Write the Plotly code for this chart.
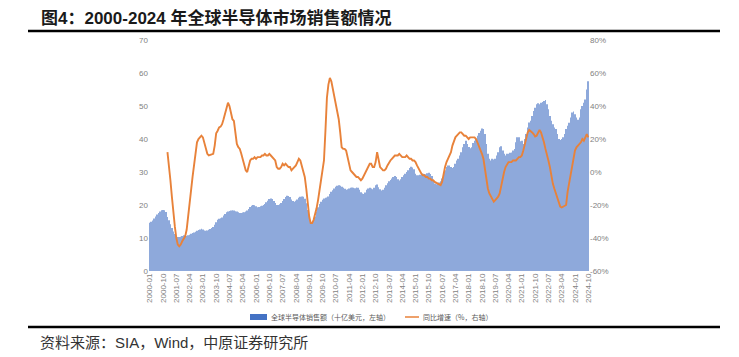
import pandas as pd
import plotly.graph_objects as go

# ---------------- data ----------------
months = [p.strftime("%Y-%m") for p in pd.period_range("2000-01", "2024-10", freq="M")]

sales_2000 = [14.6, 14.9, 15.3, 15.9, 16.5, 17.1, 17.6, 18.0, 18.4, 18.5, 18.4, 17.9]
sales_2001 = [16.4, 15.4, 14.2, 13.0, 12.0, 11.2, 10.6, 10.3, 10.3, 10.4, 10.6, 10.8]
sales_2002 = [10.7, 10.6, 10.8, 11.0, 11.3, 11.5, 11.7, 11.9, 12.2, 12.4, 12.6, 12.8]
sales_2003 = [12.6, 12.3, 12.2, 12.3, 12.5, 12.7, 13.0, 13.3, 14.0, 14.8, 15.5, 15.8]
sales_2004 = [16.0, 16.2, 16.8, 17.3, 17.8, 18.0, 18.2, 18.3, 18.4, 18.3, 18.1, 18.0]
sales_2005 = [17.8, 17.6, 17.6, 17.7, 17.8, 18.0, 18.3, 18.8, 19.4, 19.8, 20.0, 19.9]
sales_2006 = [19.6, 19.3, 19.4, 19.6, 19.8, 20.0, 20.3, 20.8, 21.3, 21.8, 22.0, 21.8]
sales_2007 = [21.2, 20.6, 20.0, 20.0, 20.2, 20.6, 21.2, 21.8, 22.4, 22.8, 22.7, 22.4]
sales_2008 = [21.7, 21.2, 21.0, 21.3, 21.7, 22.2, 22.5, 22.6, 22.5, 21.9, 20.5, 18.5]
sales_2009 = [16.0, 14.6, 14.4, 15.2, 16.5, 18.0, 19.3, 20.3, 21.0, 21.6, 22.0, 22.2]
sales_2010 = [22.3, 22.6, 23.3, 24.0, 24.5, 25.0, 25.5, 25.8, 26.0, 25.8, 25.5, 25.2]
sales_2011 = [24.9, 24.6, 24.8, 25.0, 25.2, 25.3, 25.2, 25.1, 25.3, 25.2, 24.6, 23.9]
sales_2012 = [23.5, 23.3, 23.8, 24.6, 25.0, 25.2, 25.0, 24.8, 25.2, 26.0, 26.2, 25.4]
sales_2013 = [24.8, 24.4, 24.6, 25.2, 26.0, 26.6, 27.2, 27.6, 28.0, 28.5, 28.8, 28.5]
sales_2014 = [27.8, 27.4, 27.8, 28.5, 29.0, 29.5, 30.0, 30.5, 31.2, 31.6, 31.4, 30.8]
sales_2015 = [29.5, 29.0, 29.0, 29.2, 29.4, 29.5, 29.4, 29.3, 29.6, 29.8, 29.4, 28.8]
sales_2016 = [27.4, 26.5, 26.3, 26.5, 26.8, 27.2, 28.0, 29.5, 30.5, 31.5, 32.0, 32.0]
sales_2017 = [31.5, 31.2, 31.5, 32.5, 33.5, 34.0, 35.0, 36.0, 37.5, 38.5, 39.5, 38.5]
sales_2018 = [37.6, 37.2, 37.5, 38.8, 39.5, 40.0, 41.0, 41.8, 42.5, 43.2, 43.0, 41.5]
sales_2019 = [38.5, 35.5, 34.0, 33.5, 34.0, 33.8, 34.0, 35.0, 36.0, 37.5, 37.8, 36.5]
sales_2020 = [35.5, 35.0, 35.5, 35.5, 35.8, 35.9, 36.5, 37.0, 39.0, 40.5, 40.5, 39.3]
sales_2021 = [39.5, 38.5, 40.0, 41.5, 43.5, 45.0, 45.5, 47.0, 48.5, 49.5, 50.5, 50.8]
sales_2022 = [50.5, 51.0, 51.2, 51.5, 51.8, 50.5, 49.0, 47.0, 45.5, 44.5, 43.5, 43.0]
sales_2023 = [41.5, 40.0, 39.7, 40.0, 40.5, 41.5, 43.0, 44.0, 44.9, 46.5, 48.0, 48.3]
sales_2024 = [47.5, 46.5, 45.8, 46.5, 49.0, 50.0, 51.0, 52.0, 55.0, 57.5]

yoy_2001 = [12, 5, -5, -15, -25, -33, -40, -44, -45, -44, -42, -40]
yoy_2002 = [-39, -35, -28, -20, -11, -3, 5, 12, 18, 20, 21, 22]
yoy_2003 = [21, 18, 14, 11, 10, 10.3, 10.5, 11, 16, 23.5, 25, 27]
yoy_2004 = [27.5, 29, 32, 35, 38, 42, 40, 36, 32, 31, 24, 17]
yoy_2005 = [15, 14, 11, 8, 4, 1, 0, 3, 7, 8, 8, 9]
yoy_2006 = [8, 9, 9, 9, 10, 10, 11, 10, 10, 11, 10, 9]
yoy_2007 = [8, 7, 3, 2, 2, 3, 5, 4, 5, 4, 3, 3]
yoy_2008 = [1, 2, 3, 4, 6, 8, 7, 4, 1, -3, -10, -20]
yoy_2009 = [-27, -31, -31, -29, -26, -22, -17, -12, -5, 1, 7, 25]
yoy_2010 = [45, 53, 57, 55, 50, 46, 41, 36, 32, 24, 15, 14]
yoy_2011 = [14, 13, 9, 5, 1, 0, -1, -2, -3, -3, -4, -5]
yoy_2012 = [-4, -2, 0, 2, 4, 5, 5, 3, 3, 6, 12, 6]
yoy_2013 = [3, 2, 1, 1, 2, 4, 6, 7, 8, 9, 10, 10]
yoy_2014 = [10, 11, 10, 9, 9, 9, 10, 9, 8, 8, 7, 7]
yoy_2015 = [6, 4, 2, 0, -1, -2, -2, -3, -3, -4, -4, -5]
yoy_2016 = [-5, -6, -6.5, -7, -7.5, -8, -6, -1, 3, 6, 8, 9.3]
yoy_2017 = [12, 16, 19, 21, 22, 23, 24, 24, 23, 22, 22, 21]
yoy_2018 = [20, 21, 21, 21, 21, 20, 18, 15, 13, 11, 8, 2]
yoy_2019 = [-5, -10, -13, -15, -17, -18, -17, -16, -15, -13, -8, -3]
yoy_2020 = [0, 3, 5, 6, 6, 6, 7, 7, 7, 8, 9, 9]
yoy_2021 = [10, 13, 17, 20, 24, 25.5, 25, 24, 23, 21.5, 22, 24]
yoy_2022 = [25.5, 24, 21.5, 18, 14, 11, 7, 3, -3, -7, -10, -13]
yoy_2023 = [-15, -18, -21, -21.5, -21, -21, -20, -12, -7, 0, 5, 10]
yoy_2024 = [13, 15, 16, 17, 18, 20, 19, 21, 23, 21]

tick_labels = ["2000-01", "2000-10", "2001-07", "2002-04", "2003-01", "2003-10", "2004-07",
               "2005-04", "2006-01", "2006-10", "2007-07", "2008-04", "2009-01", "2009-10",
               "2010-07", "2011-04", "2012-01", "2012-10", "2013-07", "2014-04", "2015-01",
               "2015-10", "2016-07", "2017-04", "2018-01", "2018-10", "2019-07", "2020-04",
               "2021-01", "2021-10", "2022-07", "2023-04", "2024-01", "2024-10"]

left_ticks = [0, 10, 20, 30, 40, 50, 60, 70]
right_ticks = [-60, -40, -20, 0, 20, 40, 60, 80]

bar_name = "全球半导体销售额（十亿美元，左轴）"
line_name = "同比增速（%，右轴）"

sales = (sales_2000 + sales_2001 + sales_2002 + sales_2003 + sales_2004 + sales_2005 +
         sales_2006 + sales_2007 + sales_2008 + sales_2009 + sales_2010 + sales_2011 +
         sales_2012 + sales_2013 + sales_2014 + sales_2015 + sales_2016 + sales_2017 +
         sales_2018 + sales_2019 + sales_2020 + sales_2021 + sales_2022 + sales_2023 + sales_2024)
yoy = (yoy_2001 + yoy_2002 + yoy_2003 + yoy_2004 + yoy_2005 + yoy_2006 + yoy_2007 +
       yoy_2008 + yoy_2009 + yoy_2010 + yoy_2011 + yoy_2012 + yoy_2013 + yoy_2014 +
       yoy_2015 + yoy_2016 + yoy_2017 + yoy_2018 + yoy_2019 + yoy_2020 + yoy_2021 +
       yoy_2022 + yoy_2023 + yoy_2024)

FONT = "Liberation Sans, Arial, Noto Sans CJK SC, sans-serif"
CJK = "Noto Sans CJK SC, Liberation Sans, sans-serif"
BAR_C = "#8EA9DB"
LINE_C = "#E8823A"

W, H = 739, 357
L, R, T, B = 149, 150, 40, 86
PW, PH = W - L - R, H - T - B


def px(x):
    return (x - L) / PW


def py(y):
    return (H - B - y) / PH


fig = go.Figure()
fig.add_trace(go.Bar(
    x=months, y=sales, name=bar_name,
    marker=dict(color=BAR_C, line=dict(width=0)),
))
fig.add_trace(go.Scatter(
    x=months[12:], y=yoy, name=line_name, yaxis="y2",
    mode="lines", line=dict(color=LINE_C, width=1.9),
))

tickfont = dict(family=FONT, size=8, color="#7f7f7f")
fig.update_layout(
    width=W, height=H,
    margin=dict(l=L, r=R, t=T, b=B, autoexpand=False),
    paper_bgcolor="white", plot_bgcolor="white",
    bargap=0.45,
    showlegend=False,
    xaxis=dict(type="category", tickmode="array", tickvals=tick_labels, ticktext=tick_labels,
               tickangle=-90, tickfont=tickfont, automargin=False,
               showgrid=False, showline=False, ticks="", range=[-0.5, len(months) - 0.5]),
    yaxis=dict(range=[0, 70], tickvals=left_ticks, showgrid=False, zeroline=False,
               automargin=False, tickfont=tickfont, ticks="", showline=False),
    yaxis2=dict(range=[-60, 80], tickvals=right_ticks, ticktext=[f"{v}%" for v in right_ticks],
                overlaying="y", side="right", showgrid=False, zeroline=False, automargin=False,
                tickfont=tickfont, ticks="", showline=False),
    font=dict(family=FONT),
)

# header / footer rules
for yy in (31, 327):
    fig.add_shape(type="line", xref="paper", yref="paper",
                  x0=px(28), x1=px(720), y0=py(yy), y1=py(yy),
                  line=dict(color="black", width=2.5))

# title and source
fig.add_annotation(xref="paper", yref="paper", x=px(39), y=py(18),
                   xanchor="left", yanchor="middle", showarrow=False,
                   text="<b>图4：2000-2024 年全球半导体市场销售额情况</b>",
                   font=dict(family=FONT, size=17, color="#1a1a1a"))
fig.add_annotation(xref="paper", yref="paper", x=px(38), y=py(342),
                   xanchor="left", yanchor="middle", showarrow=False,
                   text="资料来源：SIA，Wind，中原证券研究所",
                   font=dict(family=FONT, size=15, color="#333333"))

# manual legend
fig.add_shape(type="rect", xref="paper", yref="paper",
              x0=px(250), x1=px(267), y0=py(320), y1=py(314),
              fillcolor="#4472C4", line=dict(width=0))
fig.add_annotation(xref="paper", yref="paper", x=px(269), y=py(317),
                   xanchor="left", yanchor="middle", showarrow=False, text=bar_name,
                   font=dict(family=CJK, size=7, color="#595959"))
fig.add_shape(type="line", xref="paper", yref="paper",
              x0=px(405), x1=px(419), y0=py(317), y1=py(317),
              line=dict(color=LINE_C, width=1.5))
fig.add_annotation(xref="paper", yref="paper", x=px(421), y=py(317),
                   xanchor="left", yanchor="middle", showarrow=False, text=line_name,
                   font=dict(family=CJK, size=7, color="#595959"))

fig.write_html("out.html", config={"displayModeBar": False},
               post_script="document.body.style.margin='0';document.body.style.overflow='hidden';")
